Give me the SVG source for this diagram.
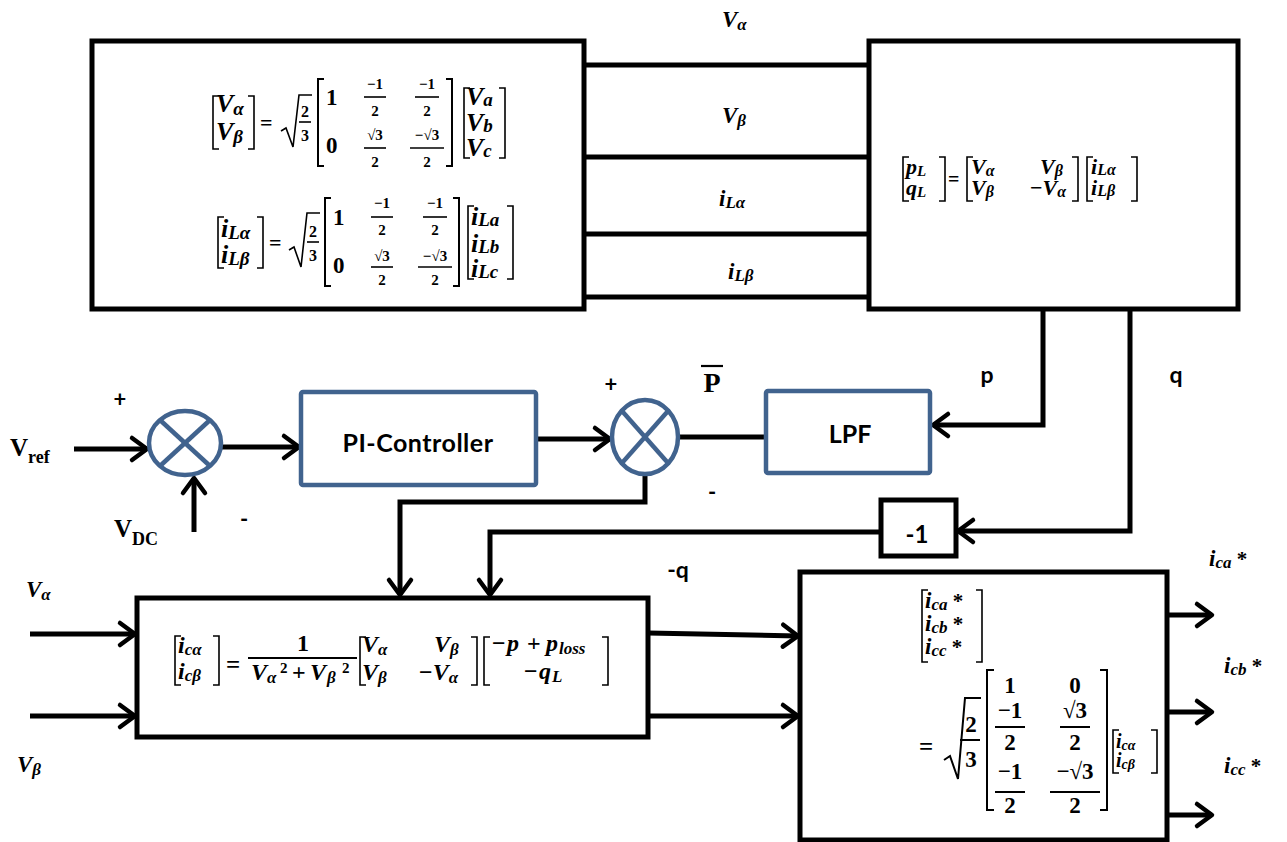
<svg xmlns="http://www.w3.org/2000/svg" width="1287" height="842" viewBox="0 0 1287 842">
<defs>
<style>
.box{fill:#fff;stroke:#000;stroke-width:5}
.bbox{fill:#fff;stroke:#41638e;stroke-width:4.5}
.x{stroke:#41638e;stroke-width:4.5}
.w{fill:none;stroke:#000;stroke-width:5}
.wa{fill:none;stroke:#000;stroke-width:5;marker-end:url(#ah)}
.br{fill:none;stroke:#000;stroke-width:1.6}
.bb{fill:none;stroke:#000;stroke-width:2}
.fb{stroke:#000;stroke-width:1.6}
.m{font-family:"Liberation Serif",serif;font-weight:bold;font-style:italic;fill:#000}
.n{font-family:"Liberation Serif",serif;font-weight:bold;font-style:normal;fill:#000}
.c{text-anchor:middle}
.l{font-family:Lato,"Liberation Sans",sans-serif;font-weight:bold;fill:#000}
</style>
<marker id="ah" markerUnits="userSpaceOnUse" markerWidth="24" markerHeight="26" refX="17" refY="12" orient="auto" overflow="visible"><path d="M2,1 L17,12 L2,23" fill="none" stroke="#000" stroke-width="4.5" stroke-linecap="round" stroke-linejoin="round"/></marker>
</defs>
<rect width="1287" height="842" fill="#fff"/>

<g id="connectors">
<path class="w" d="M584,65 H869" stroke-width="7"/>
<path class="w" d="M584,157 H869"/>
<path class="w" d="M584,234 H869"/>
<path class="w" d="M584,297 H869"/>
<path class="wa" d="M1043,309 V425 H933"/>
<path class="wa" d="M1130,309 V531 H958"/>
<path class="wa" d="M881,532 H490 V595"/>
<path class="wa" d="M645,474 V502 H400 V595"/>
<path class="wa" d="M74,449 H147"/>
<path class="wa" d="M221,447 H299"/>
<path class="wa" d="M194,532 V478"/>
<path class="wa" d="M536,439 H610"/>
<path class="w" d="M678,437 H766"/>
<path class="wa" d="M30,634 H135"/>
<path class="wa" d="M30,716 H135"/>
<path class="wa" d="M648,633 L798,636"/>
<path class="wa" d="M648,716 H798"/>
<path class="wa" d="M1167,615 H1212"/>
<path class="wa" d="M1167,712 H1212"/>
<path class="wa" d="M1167,815 H1212"/>
</g>

<g id="abc-to-alphabeta">
<rect class="box" x="92" y="41" width="492" height="268"/>
<path class="br" d="M219,96 H213 V149 H219 M248,96 H254 V149 H248"/>
<text class="m" x="216" y="112" font-size="26">V<tspan font-size="19" dy="3">α</tspan></text>
<text class="m" x="216" y="140" font-size="26">V<tspan font-size="19" dy="3">β</tspan></text>
<text class="n" x="260" y="130" font-size="22">=</text>
<path class="br" d="M281,131 L286,128 L293,147 L299,95 H312"/>
<text class="n c" x="305" y="117" font-size="16">2</text>
<line class="fb" x1="299" y1="122" x2="311" y2="122"/>
<text class="n c" x="305" y="141" font-size="16">3</text>
<path class="bb" d="M324,79 H318 V166 H324 M446,79 H452 V166 H446"/>
<text class="n" x="326" y="105" font-size="23">1</text>
<text class="n" x="326" y="153" font-size="23">0</text>
<text class="n c" x="375" y="89" font-size="15">−1</text>
<line class="fb" x1="364" y1="97" x2="386" y2="97"/>
<text class="n c" x="375" y="116" font-size="15">2</text>
<text class="n c" x="375" y="140" font-size="15">√3</text>
<line class="fb" x1="364" y1="148" x2="386" y2="148"/>
<text class="n c" x="375" y="167" font-size="15">2</text>
<text class="n c" x="427" y="89" font-size="15">−1</text>
<line class="fb" x1="415" y1="97" x2="439" y2="97"/>
<text class="n c" x="427" y="116" font-size="15">2</text>
<text class="n c" x="427" y="140" font-size="15">−√3</text>
<line class="fb" x1="410" y1="148" x2="444" y2="148"/>
<text class="n c" x="427" y="167" font-size="15">2</text>
<path class="br" d="M470,88 H464 V158 H470 M499,88 H505 V158 H499"/>
<text class="m" x="466" y="105" font-size="26">V<tspan font-size="19" dy="1">a</tspan></text>
<text class="m" x="466" y="131" font-size="26">V<tspan font-size="19" dy="1">b</tspan></text>
<text class="m" x="466" y="156" font-size="26">V<tspan font-size="19" dy="1">c</tspan></text>

<path class="br" d="M224,217 H218 V268 H224 M257,217 H263 V268 H257"/>
<text class="m" x="221" y="237" font-size="26">i<tspan font-size="19" dy="2">Lα</tspan></text>
<text class="m" x="221" y="263" font-size="26">i<tspan font-size="19" dy="2">Lβ</tspan></text>
<text class="n" x="269" y="250" font-size="22">=</text>
<path class="br" d="M289,250 L294,247 L301,267 L307,213 H320"/>
<text class="n c" x="313" y="237" font-size="16">2</text>
<line class="fb" x1="307" y1="242" x2="319" y2="242"/>
<text class="n c" x="313" y="261" font-size="16">3</text>
<path class="bb" d="M331,198 H325 V286 H331 M453,198 H459 V286 H453"/>
<text class="n" x="333" y="225" font-size="23">1</text>
<text class="n" x="333" y="273" font-size="23">0</text>
<text class="n c" x="382" y="208" font-size="15">−1</text>
<line class="fb" x1="371" y1="217" x2="393" y2="217"/>
<text class="n c" x="382" y="235" font-size="15">2</text>
<text class="n c" x="382" y="261" font-size="15">√3</text>
<line class="fb" x1="371" y1="267" x2="393" y2="267"/>
<text class="n c" x="382" y="285" font-size="15">2</text>
<text class="n c" x="435" y="208" font-size="15">−1</text>
<line class="fb" x1="423" y1="217" x2="447" y2="217"/>
<text class="n c" x="435" y="235" font-size="15">2</text>
<text class="n c" x="435" y="261" font-size="15">−√3</text>
<line class="fb" x1="418" y1="267" x2="452" y2="267"/>
<text class="n c" x="435" y="285" font-size="15">2</text>
<path class="br" d="M474,206 H468 V279 H474 M507,206 H513 V279 H507"/>
<text class="m" x="471" y="225" font-size="26">i<tspan font-size="19" dy="1">La</tspan></text>
<text class="m" x="471" y="252" font-size="26">i<tspan font-size="19" dy="1">Lb</tspan></text>
<text class="m" x="471" y="277" font-size="26">i<tspan font-size="19" dy="1">Lc</tspan></text>
</g>

<g id="pq-calc">
<rect class="box" x="869" y="41" width="369" height="268"/>
<path class="br" d="M909,157 H903 V201 H909 M939,157 H945 V201 H939"/>
<text class="m" x="906" y="174" font-size="22">p<tspan font-size="15" dy="2">L</tspan></text>
<text class="m" x="906" y="195" font-size="22">q<tspan font-size="15" dy="2">L</tspan></text>
<text class="n" x="948" y="186" font-size="20">=</text>
<path class="br" d="M973,157 H967 V201 H973 M1072,157 H1078 V201 H1072"/>
<text class="m" x="971" y="174" font-size="22">V<tspan font-size="16" dy="2">α</tspan></text>
<text class="m" x="1040" y="174" font-size="22">V<tspan font-size="16" dy="2">β</tspan></text>
<text class="m" x="971" y="195" font-size="22">V<tspan font-size="16" dy="2">β</tspan></text>
<text class="m" x="1030" y="195" font-size="22"><tspan class="n">−</tspan>V<tspan font-size="16" dy="2">α</tspan></text>
<path class="br" d="M1093,157 H1087 V201 H1093 M1131,157 H1137 V201 H1131"/>
<text class="m" x="1091" y="174" font-size="22">i<tspan font-size="16" dy="1">Lα</tspan></text>
<text class="m" x="1091" y="195" font-size="22">i<tspan font-size="16" dy="1">Lβ</tspan></text>
</g>

<g id="sum1">
<ellipse class="bbox" cx="185" cy="443" rx="36" ry="32"/>
<line class="x" x1="160" y1="420" x2="210" y2="466"/>
<line class="x" x1="210" y1="420" x2="160" y2="466"/>
</g>

<g id="pi-controller">
<rect class="bbox" x="301" y="392" width="235" height="93" rx="2"/>
<text class="l c" x="418" y="452" font-size="25" letter-spacing="0.5">PI-Controller</text>
</g>

<g id="sum2">
<ellipse class="bbox" cx="645" cy="437" rx="33" ry="37"/>
<line class="x" x1="622" y1="411" x2="668" y2="463"/>
<line class="x" x1="668" y1="411" x2="622" y2="463"/>
</g>

<g id="lpf">
<rect class="bbox" x="766" y="391" width="164" height="82" rx="2"/>
<text class="l c" x="850" y="443" font-size="25">LPF</text>
</g>

<g id="gain-neg1">
<rect class="box" x="881" y="500" width="75" height="56"/>
<text class="l c" x="917" y="543" font-size="24">-1</text>
</g>

<g id="ic-calc">
<rect class="box" x="137" y="598" width="511" height="139"/>
<path class="br" d="M181,636 H175 V685 H181 M213,636 H219 V685 H213"/>
<text class="m" x="178" y="653" font-size="24">i<tspan font-size="17" dy="2">cα</tspan></text>
<text class="m" x="178" y="679" font-size="24">i<tspan font-size="17" dy="2">cβ</tspan></text>
<text class="n" x="226" y="673" font-size="25">=</text>
<text class="n c" x="303" y="651" font-size="24">1</text>
<line x1="248" y1="658" x2="357" y2="658" stroke="#000" stroke-width="2"/>
<text class="m" y="680" font-size="24"><tspan x="251">V</tspan><tspan x="267" dy="3" font-size="17">α</tspan><tspan class="n" x="280" y="673" font-size="15">2</tspan><tspan class="n" x="292" y="680">+</tspan><tspan x="310">V</tspan><tspan x="327" dy="3" font-size="17">β</tspan><tspan class="n" x="342" y="673" font-size="15">2</tspan></text>
<path class="br" d="M366,637 H360 V685 H366 M471,637 H477 V685 H471"/>
<text class="m" x="362" y="652" font-size="24">V<tspan font-size="17" dy="3">α</tspan></text>
<text class="m" x="434" y="652" font-size="24">V<tspan font-size="17" dy="3">β</tspan></text>
<text class="m" x="362" y="680" font-size="24">V<tspan font-size="17" dy="3">β</tspan></text>
<text class="m" x="419" y="680" font-size="24"><tspan class="n">−</tspan>V<tspan font-size="17" dy="3">α</tspan></text>
<path class="br" d="M490,637 H484 V685 H490 M602,637 H608 V685 H602"/>
<text class="m" y="651" font-size="24"><tspan class="n" x="492">−</tspan><tspan x="507">p</tspan><tspan class="n" x="527">+</tspan><tspan x="546">p</tspan><tspan x="559" dy="3" font-size="17">loss</tspan></text>
<text class="m" y="679" font-size="24"><tspan class="n" x="524">−</tspan><tspan x="539">q</tspan><tspan x="552" dy="3" font-size="17">L</tspan></text>
</g>

<g id="inverse-transform">
<rect class="box" x="800" y="572" width="367" height="268"/>
<path class="br" d="M928,590 H922 V662 H928 M976,590 H982 V662 H976"/>
<text class="m" x="925" y="608" font-size="23">i<tspan font-size="17" dy="2">ca</tspan><tspan class="n" font-size="21" dy="-2"> *</tspan></text>
<text class="m" x="925" y="631" font-size="23">i<tspan font-size="17" dy="2">cb</tspan><tspan class="n" font-size="21" dy="-2"> *</tspan></text>
<text class="m" x="925" y="654" font-size="23">i<tspan font-size="17" dy="2">cc</tspan><tspan class="n" font-size="21" dy="-2"> *</tspan></text>
<text class="n" x="919" y="755" font-size="25">=</text>
<path class="bb" d="M944,760 L950,756 L958,779 L965,698 H981"/>
<text class="n c" x="971" y="732" font-size="23">2</text>
<line x1="960" y1="740" x2="980" y2="740" stroke="#000" stroke-width="2"/>
<text class="n c" x="971" y="767" font-size="23">3</text>
<path class="bb" d="M994,670 H987 V810 H994 M1100,670 H1107 V810 H1100"/>
<text class="n c" x="1010" y="693" font-size="23">1</text>
<text class="n c" x="1075" y="693" font-size="23">0</text>
<text class="n c" x="1010" y="718" font-size="23">−1</text>
<line x1="995" y1="727" x2="1025" y2="727" stroke="#000" stroke-width="2"/>
<text class="n c" x="1010" y="750" font-size="23">2</text>
<text class="n c" x="1075" y="718" font-size="23">√3</text>
<line x1="1060" y1="727" x2="1090" y2="727" stroke="#000" stroke-width="2"/>
<text class="n c" x="1075" y="750" font-size="23">2</text>
<text class="n c" x="1010" y="779" font-size="23">−1</text>
<line x1="995" y1="792" x2="1025" y2="792" stroke="#000" stroke-width="2"/>
<text class="n c" x="1010" y="813" font-size="23">2</text>
<text class="n c" x="1075" y="779" font-size="23">−√3</text>
<line x1="1050" y1="792" x2="1100" y2="792" stroke="#000" stroke-width="2"/>
<text class="n c" x="1075" y="813" font-size="23">2</text>
<path class="br" d="M1119,730 H1113 V773 H1119 M1151,730 H1157 V773 H1151"/>
<text class="m" x="1116" y="748" font-size="20">i<tspan font-size="14" dy="2">cα</tspan></text>
<text class="m" x="1116" y="767" font-size="20">i<tspan font-size="14" dy="2">cβ</tspan></text>
</g>

<g id="labels">
<text class="m" x="722" y="27" font-size="23">V<tspan font-size="17" dy="3">α</tspan></text>
<text class="m" x="722" y="123" font-size="23">V<tspan font-size="17" dy="3">β</tspan></text>
<text class="m" x="719" y="206" font-size="23">i<tspan font-size="17" dy="2">Lα</tspan></text>
<text class="m" x="728" y="279" font-size="23">i<tspan font-size="17" dy="2">Lβ</tspan></text>
<text class="n" x="10" y="456" font-size="25">V<tspan font-size="18" dy="7">ref</tspan></text>
<text class="n" x="114" y="537" font-size="25">V<tspan font-size="18" dy="8">DC</tspan></text>
<text class="l c" x="120" y="407" font-size="22">+</text>
<text class="l c" x="244" y="527" font-size="22">-</text>
<text class="l c" x="611" y="392" font-size="22">+</text>
<text class="l c" x="712" y="500" font-size="22">-</text>
<text class="n c" x="712" y="392" font-size="28">P</text>
<line x1="701" y1="366" x2="723" y2="366" stroke="#000" stroke-width="2.2"/>
<text class="l c" x="987" y="383" font-size="23">p</text>
<text class="l c" x="1176" y="383" font-size="23">q</text>
<text class="l c" x="678" y="578" font-size="23">-q</text>
<text class="m" x="26" y="597" font-size="23">V<tspan font-size="17" dy="3">α</tspan></text>
<text class="m" x="17" y="772" font-size="23">V<tspan font-size="17" dy="3">β</tspan></text>
<text class="m" x="1209" y="566" font-size="23">i<tspan font-size="17" dy="2">ca</tspan><tspan class="n" font-size="21" dy="-2"> *</tspan></text>
<text class="m" x="1224" y="673" font-size="23">i<tspan font-size="17" dy="2">cb</tspan><tspan class="n" font-size="21" dy="-2"> *</tspan></text>
<text class="m" x="1224" y="773" font-size="23">i<tspan font-size="17" dy="2">cc</tspan><tspan class="n" font-size="21" dy="-2"> *</tspan></text>
</g>
</svg>
